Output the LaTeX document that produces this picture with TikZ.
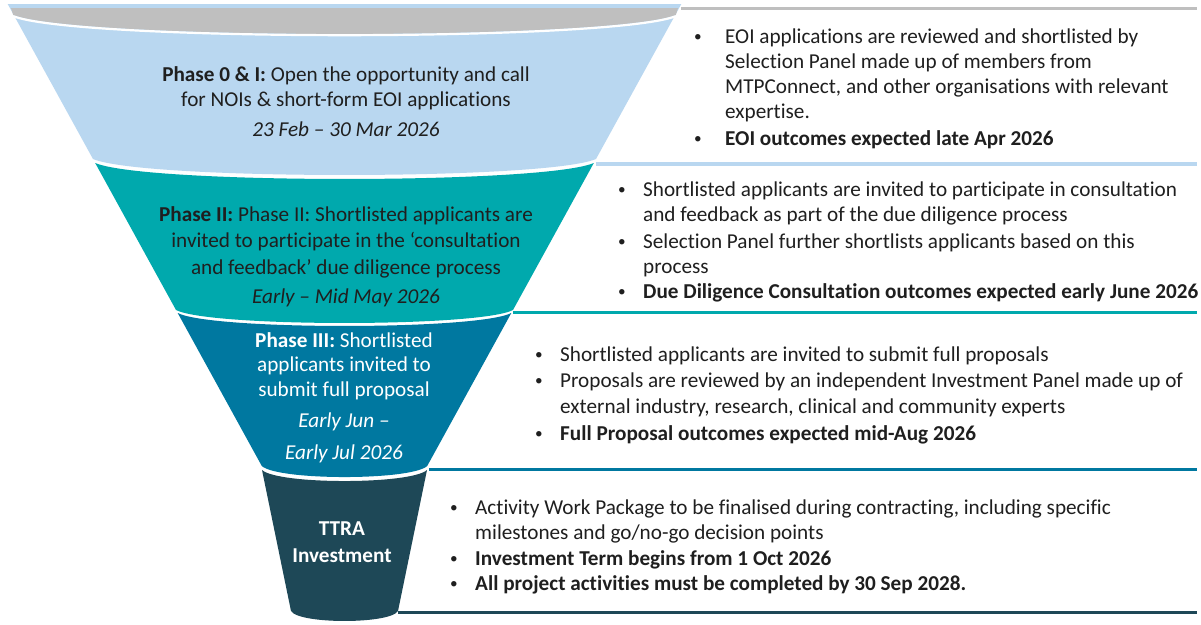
\documentclass[tikz,border=0pt]{standalone}
\usepackage{fontspec}
\setmainfont{Carlito}[Ligatures={NoCommon}]
\newcommand{\bul}{\raisebox{1.6pt}{\scalebox{0.72}{\textbullet}}}
\begin{document}
\begin{tikzpicture}[x=1pt,y=-1pt,
  lt/.style={anchor=base west,inner sep=0pt,text=txtc,font=\fontsize{21.2}{25}\selectfont},
  ct/.style={anchor=base,inner sep=0pt,text=txtc,font=\fontsize{21.2}{25}\selectfont},
  wt/.style={ct,text=white},
  rulel/.style={line width=3.5pt}]
\definecolor{txtc}{HTML}{1F1F1F}
\definecolor{c1}{HTML}{B9D7F0}
\definecolor{c2}{HTML}{00A9AD}
\definecolor{c3}{HTML}{0078A0}
\definecolor{c4}{HTML}{1E4857}
\definecolor{capc}{HTML}{BFBFBF}
\useasboundingbox (0,0) rectangle (1201,624);
\fill[white] (0,0) rectangle (1201,624);
% funnel segments
\fill[c1] (7.7,4) -- (681.3,4) -- (596,159) .. controls (545.7,180.3) and (143.3,180.3) .. (93,159) -- cycle;
\fill[capc] (11,8) -- (678,8) -- (675.8,15) .. controls (609.5,40.3) and (79.7,40.3) .. (13.2,15) -- cycle;
\draw[white,line width=2.2pt] (675.8,16.2) .. controls (609.5,41.5) and (79.7,41.5) .. (13.2,16.2);
\fill[c2] (95.2,163) .. controls (145.1,184.3) and (543.9,184.3) .. (593.8,163) -- (513,310) .. controls (479.3,327.3) and (209.7,327.3) .. (176,310) -- cycle;
\fill[c3] (177.7,313) .. controls (211.1,330.3) and (477.9,330.3) .. (511.3,313) -- (427.2,466) .. controls (410.7,480.7) and (278.3,480.7) .. (261.8,466) -- cycle;
\fill[c4] (262,470) .. controls (278.5,484.7) and (410.5,484.7) .. (427,470) -- (398,611) .. controls (390,624.3) and (299,624.3) .. (291,611) -- cycle;
% rules
\coordinate (r0a) at (681,8.5); \coordinate (r0b) at (1197,8.5);
\coordinate (r1a) at (596,164); \coordinate (r1b) at (1197,164);
\coordinate (r2a) at (513,312.5); \coordinate (r2b) at (1197,312.5);
\coordinate (r3a) at (429,469.5); \coordinate (r3b) at (1197,469.5);
\coordinate (r4a) at (398,612.5); \coordinate (r4b) at (1197,612.5);
\draw[rulel,capc,line width=3pt] (r0a) -- (r0b);
\draw[rulel,c1] (r1a) -- (r1b);
\draw[rulel,c2,line width=3pt] (r2a) -- (r2b);
\draw[rulel,c3,line width=3pt] (r3a) -- (r3b);
\draw[rulel,c4] (r4a) -- (r4b);
% funnel texts
\node[ct] (p1a) at (346,81) {\textbf{Phase 0 \& I:} Open the opportunity and call};
\node[ct] (p1b) at (346,106) {for NOIs \& short-form EOI applications};
\node[ct] (p1c) at (346,136) {\itshape 23 Feb – 30 Mar 2026};
\node[ct] (p2a) at (346,221) {\textbf{Phase II:} Phase II: Shortlisted applicants are};
\node[ct] (p2b) at (346,247) {invited to participate in the ‘consultation};
\node[ct] (p2c) at (346,274) {and feedback’ due diligence process};
\node[ct] (p2d) at (346,303) {\itshape Early – Mid May 2026};
\node[wt] (p3a) at (344,347) {\textbf{Phase III:} Shortlisted};
\node[wt] (p3b) at (344,371) {applicants invited to};
\node[wt] (p3c) at (344,396) {submit full proposal};
\node[wt] (p3d) at (344,427) {\itshape Early Jun –};
\node[wt] (p3e) at (344,459) {\itshape Early Jul 2026};
\node[wt] (p4a) at (342,535) {\bfseries TTRA};
\node[wt] (p4b) at (342,562) {\bfseries Investment};
% block 1
\node[lt] (b1a) at (694,43) {\bul};
\node[lt] (t1a) at (725,43) {EOI applications are reviewed and shortlisted by};
\node[lt] (t1b) at (725,68) {Selection Panel made up of members from};
\node[lt] (t1c) at (725,93) {MTPConnect, and other organisations with relevant};
\node[lt] (t1d) at (725,118) {expertise.};
\node[lt] (b1e) at (694,145) {\bul};
\node[lt] (t1e) at (725,145) {\bfseries EOI outcomes expected late Apr 2026};
% block 2
\node[lt] (b2a) at (618,196) {\bul};
\node[lt] (t2a) at (643,196) {Shortlisted applicants are invited to participate in consultation};
\node[lt] (t2b) at (643,221) {and feedback as part of the due diligence process};
\node[lt] (b2c) at (618,248) {\bul};
\node[lt] (t2c) at (643,248) {Selection Panel further shortlists applicants based on this};
\node[lt] (t2d) at (643,273) {process};
\node[lt] (b2e) at (618,298) {\bul};
\node[lt] (t2e) at (643,298) {\bfseries Due Diligence Consultation outcomes expected early June 2026};
% block 3
\node[lt] (b3a) at (535,361) {\bul};
\node[lt] (t3a) at (560,361) {Shortlisted applicants are invited to submit full proposals};
\node[lt] (b3b) at (535,387) {\bul};
\node[lt] (t3b) at (560,387) {Proposals are reviewed by an independent Investment Panel made up of};
\node[lt] (t3c) at (560,413) {external industry, research, clinical and community experts};
\node[lt] (b3d) at (535,440) {\bul};
\node[lt] (t3d) at (560,440) {\bfseries Full Proposal outcomes expected mid-Aug 2026};
% block 4
\node[lt] (b4a) at (450,514) {\bul};
\node[lt] (t4a) at (475,514) {Activity Work Package to be finalised during contracting, including specific};
\node[lt] (t4b) at (475,539) {milestones and go/no-go decision points};
\node[lt] (b4c) at (450,565) {\bul};
\node[lt] (t4c) at (475,565) {\bfseries Investment Term begins from 1 Oct 2026};
\node[lt] (b4d) at (450,590) {\bul};
\node[lt] (t4d) at (475,590) {\bfseries All project activities must be completed by 30 Sep 2028.};
\end{tikzpicture}
\end{document}
